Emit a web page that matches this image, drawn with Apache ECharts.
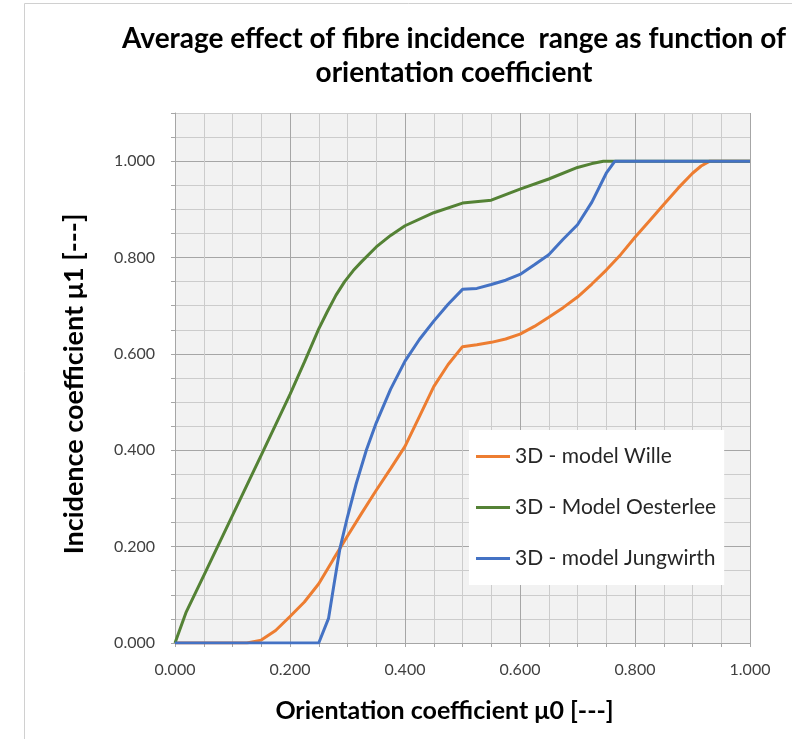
<!DOCTYPE html>
<html>
<head>
<meta charset="utf-8">
<script src="https://cdn.jsdelivr.net/npm/echarts@6/dist/echarts.min.js"></script>
<style>
  html, body { margin: 0; padding: 0; background: #ffffff; }
  #chart { width: 792px; height: 739px; }
</style>
</head>
<body>
<div id="chart"></div>
<script>
// Orientation coefficient μ0 (x) and incidence coefficient μ1 (y) per model
const willeX = [0, 0.125, 0.15, 0.175, 0.2, 0.225, 0.25, 0.275, 0.3, 0.325, 0.35, 0.375, 0.4, 0.425, 0.45, 0.475, 0.5, 0.525, 0.55, 0.575, 0.6, 0.625, 0.65, 0.675, 0.7, 0.725, 0.75, 0.775, 0.8, 0.825, 0.85, 0.875, 0.9, 0.915, 0.93, 0.95, 1.0];
const willeY = [0, 0, 0.006, 0.026, 0.055, 0.085, 0.123, 0.173, 0.222, 0.27, 0.317, 0.362, 0.408, 0.47, 0.532, 0.578, 0.615, 0.619, 0.624, 0.631, 0.641, 0.657, 0.676, 0.696, 0.718, 0.745, 0.774, 0.806, 0.842, 0.876, 0.91, 0.944, 0.975, 0.99, 1.0, 1.0, 1.0];

const oesterleeX = [0, 0.019, 0.05, 0.1, 0.15, 0.2, 0.225, 0.25, 0.265, 0.28, 0.295, 0.31, 0.325, 0.35, 0.375, 0.4, 0.45, 0.5, 0.55, 0.6, 0.65, 0.7, 0.725, 0.745, 0.8, 0.9, 1.0];
const oesterleeY = [0, 0.063, 0.14, 0.265, 0.39, 0.516, 0.583, 0.652, 0.688, 0.722, 0.75, 0.773, 0.792, 0.822, 0.846, 0.866, 0.893, 0.913, 0.919, 0.942, 0.963, 0.987, 0.995, 1.0, 1.0, 1.0, 1.0];

const jungwirthX = [0, 0.1, 0.2, 0.25, 0.267, 0.277, 0.287, 0.3, 0.315, 0.333, 0.35, 0.375, 0.4, 0.425, 0.45, 0.475, 0.5, 0.525, 0.55, 0.575, 0.6, 0.625, 0.65, 0.675, 0.7, 0.725, 0.75, 0.765, 0.8, 0.9, 1.0];
const jungwirthY = [0, 0, 0, 0, 0.051, 0.125, 0.197, 0.262, 0.33, 0.401, 0.457, 0.527, 0.585, 0.63, 0.668, 0.703, 0.734, 0.736, 0.744, 0.753, 0.765, 0.785, 0.806, 0.838, 0.868, 0.915, 0.975, 1.0, 1.0, 1.0, 1.0];

const seriesNames = ['3D - model Wille', '3D - Model Oesterlee', '3D - model Jungwirth'];
const seriesColors = ['#ED7D31', '#548235', '#4472C4'];

const titleText = 'Average effect of fibre incidence  range as function of\norientation coefficient';
const xTitle = 'Orientation coefficient \u03bc0 [---]';
const yTitle = 'Incidence coefficient \u03bc1 [---]';

const FONT = 'Lato';

function pairs(xs, ys) {
  return xs.map((x, i) => [x, ys[i]]);
}

// Only every fourth 0.05 step (multiples of 0.2) carries a label
function majorLabel(v) {
  const k = v / 0.2;
  return Math.abs(k - Math.round(k)) < 1e-6 ? v.toFixed(3) : '';
}

// Major grid lines every 0.2, minor every 0.05
const gridColors = ['#a6a6a6', '#cccccc', '#cccccc', '#cccccc'];

const chart = echarts.init(document.getElementById('chart'), null, { renderer: 'canvas' });

chart.setOption({
  backgroundColor: '#ffffff',
  animation: false,
  textStyle: { fontFamily: FONT },
  title: {
    text: titleText,
    left: 449,
    top: 17,
    textAlign: 'center',
    textStyle: {
      fontFamily: FONT,
      fontWeight: 'bold',
      fontSize: 28,
      lineHeight: 34,
      color: '#000000'
    }
  },
  graphic: [{
    type: 'rect',
    shape: { x: 24.5, y: 3.5, width: 900, height: 900 },
    style: { fill: 'none', stroke: '#d0d0d0', lineWidth: 1 },
    silent: true,
    z: 0
  }],
  grid: {
    left: 175,
    top: 113,
    right: 42,
    bottom: 96,
    show: true,
    backgroundColor: '#f2f2f2',
    borderWidth: 0,
    containLabel: false
  },
  legend: {
    orient: 'vertical',
    left: 469,
    top: 430,
    backgroundColor: '#ffffff',
    padding: [16, 8, 16, 7],
    itemGap: 30,
    itemWidth: 34,
    itemHeight: 3,
    icon: 'rect',
    data: seriesNames,
    textStyle: { fontFamily: FONT, fontSize: 21, color: '#262626' }
  },
  xAxis: {
    type: 'value',
    min: 0,
    max: 1,
    interval: 0.05,
    name: xTitle,
    nameLocation: 'middle',
    nameGap: 55,
    nameTextStyle: {
      fontFamily: FONT,
      fontWeight: 'bold',
      fontSize: 25,
      color: '#000000',
      padding: [0, 36, 0, 0]
    },
    axisLine: { show: true, lineStyle: { color: '#a6a6a6', width: 1 } },
    axisTick: { show: true, length: 4, lineStyle: { color: '#a6a6a6' } },
    axisLabel: {
      formatter: majorLabel,
      margin: 19,
      fontFamily: FONT,
      fontSize: 16,
      color: '#404040',
      showMaxLabel: true,
      showMinLabel: true
    },
    splitLine: { show: true, lineStyle: { color: gridColors, width: 1 } }
  },
  yAxis: {
    type: 'value',
    min: 0,
    max: 1.1,
    interval: 0.05,
    name: yTitle,
    nameLocation: 'middle',
    nameGap: 87,
    nameRotate: 90,
    nameTextStyle: {
      fontFamily: FONT,
      fontWeight: 'bold',
      fontSize: 27,
      color: '#000000',
      padding: [0, 12, 0, 0]
    },
    axisLine: { show: true, lineStyle: { color: '#a6a6a6', width: 1 } },
    axisTick: { show: true, length: 4, lineStyle: { color: '#a6a6a6' } },
    axisLabel: {
      formatter: majorLabel,
      margin: 20,
      fontFamily: FONT,
      fontSize: 16,
      color: '#404040'
    },
    splitLine: { show: true, lineStyle: { color: gridColors, width: 1 } }
  },
  series: [
    {
      name: seriesNames[0],
      type: 'line',
      data: pairs(willeX, willeY),
      showSymbol: false,
      symbol: 'none',
      color: seriesColors[0],
      lineStyle: { width: 3, color: seriesColors[0] },
      z: 3
    },
    {
      name: seriesNames[1],
      type: 'line',
      data: pairs(oesterleeX, oesterleeY),
      showSymbol: false,
      symbol: 'none',
      color: seriesColors[1],
      lineStyle: { width: 3, color: seriesColors[1] },
      z: 4
    },
    {
      name: seriesNames[2],
      type: 'line',
      data: pairs(jungwirthX, jungwirthY),
      showSymbol: false,
      symbol: 'none',
      color: seriesColors[2],
      lineStyle: { width: 3, color: seriesColors[2] },
      z: 5
    }
  ]
});
</script>
</body>
</html>
